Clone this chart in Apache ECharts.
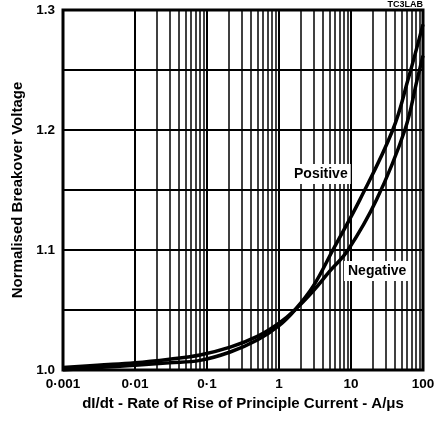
<!DOCTYPE html>
<html>
<head>
<meta charset="utf-8">
<script src="https://cdn.jsdelivr.net/npm/echarts@6/dist/echarts.min.js"></script>
<style>
  html, body { margin: 0; padding: 0; background: #fff; }
  #chart { width: 440px; height: 422px; }
</style>
</head>
<body>
<div id="chart"></div>
<script>
// 数据
var positiveX = [0.001, 0.003, 0.01, 0.03, 0.08, 0.21, 0.5, 1, 1.66, 3, 5.6, 13.3, 38, 62, 100];
var positiveY = [1.000, 1.002, 1.004, 1.006, 1.008, 1.015, 1.025, 1.037, 1.05, 1.07, 1.1, 1.142, 1.2, 1.242, 1.288];
var negativeX = [0.001, 0.003, 0.01, 0.03, 0.08, 0.21, 0.5, 1, 1.66, 3, 5, 9.1, 22.7, 56, 83, 100];
var negativeY = [1.002, 1.004, 1.006, 1.009, 1.0125, 1.019, 1.028, 1.039, 1.05, 1.066, 1.082, 1.1, 1.142, 1.2, 1.242, 1.262];
var xTickLabels = ['0·001', '0·01', '0·1', '1', '10', '100'];
var yTickLabels = ['1.0', '1.1', '1.2', '1.3'];

(function() {
    var myChart = echarts.init(document.getElementById('chart'));

    // 次刻度网格线 (2..9 x 10^k)
    var minorLines = [];
    for (var k = -3; k < 2; k++) {
        for (var m = 2; m <= 9; m++) {
            minorLines.push({ xAxis: m * Math.pow(10, k) });
        }
    }

    function pairs(xs, ys) {
        return xs.map(function(x, i) { return [x, ys[i]]; });
    }

    var font = 'Liberation Sans, Arial, sans-serif';

    var option = {
        animation: false,
        backgroundColor: '#fff',
        grid: {
            left: 63, right: 17, top: 10, bottom: 52,
            show: true,
            borderColor: '#000',
            borderWidth: 3
        },
        xAxis: {
            type: 'log',
            logBase: 10,
            min: 0.001,
            max: 100,
            axisLine: { show: false },
            axisTick: { show: false },
            splitLine: { show: true, lineStyle: { color: '#000', width: 2 } },
            axisLabel: {
                margin: 7,
                color: '#000',
                fontFamily: font,
                fontWeight: 'bold',
                fontSize: 13.5,
                formatter: function(v) {
                    var i = Math.round(Math.log10(v)) + 3;
                    return xTickLabels[i] || '';
                }
            },
            name: 'dI/dt - Rate of Rise of Principle Current - A/μs',
            nameLocation: 'middle',
            nameGap: 23,
            nameTextStyle: { color: '#000', fontFamily: font, fontWeight: 'bold', fontSize: 15 }
        },
        yAxis: {
            type: 'value',
            min: 1.0,
            max: 1.3,
            interval: 0.05,
            axisLine: { show: false },
            axisTick: { show: false },
            splitLine: { show: true, lineStyle: { color: '#000', width: 2 } },
            axisLabel: {
                margin: 8,
                color: '#000',
                fontFamily: font,
                fontWeight: 'bold',
                fontSize: 13.5,
                formatter: function(v) {
                    var t = Math.round(v * 100);
                    if (t % 10 !== 0) return '';
                    return yTickLabels[(t - 100) / 10] || '';
                }
            },
            name: 'Normalised Breakover Voltage',
            nameLocation: 'middle',
            nameGap: 38,
            nameTextStyle: { color: '#000', fontFamily: font, fontWeight: 'bold', fontSize: 15 }
        },
        series: [{
            name: 'grid',
            type: 'line',
            data: [],
            silent: true,
            markLine: {
                silent: true,
                symbol: 'none',
                label: { show: false },
                lineStyle: { color: '#000', width: 1.5, type: 'solid' },
                data: minorLines
            }
        }, {
            name: 'Positive',
            type: 'line',
            smooth: 0.4,
            showSymbol: false,
            lineStyle: { color: '#000', width: 3.5 },
            data: pairs(positiveX, positiveY),
            z: 5
        }, {
            name: 'Negative',
            type: 'line',
            smooth: 0.4,
            showSymbol: false,
            lineStyle: { color: '#000', width: 3.5 },
            data: pairs(negativeX, negativeY),
            z: 5
        }],
        graphic: [{
            type: 'text',
            left: 291, top: 164,
            z: 100,
            style: {
                text: 'Positive', fill: '#000', backgroundColor: '#fff',
                padding: [3, 3], font: 'bold 14px ' + font
            }
        }, {
            type: 'text',
            left: 344, top: 261,
            z: 100,
            style: {
                text: 'Negative', fill: '#000', backgroundColor: '#fff',
                padding: [3, 4], font: 'bold 14px ' + font
            }
        }, {
            type: 'text',
            right: 17, top: 0,
            z: 100,
            style: { text: 'TC3LAB', fill: '#000', font: 'bold 9px ' + font }
        }]
    };

    myChart.setOption(option);
})();
</script>
</body>
</html>
